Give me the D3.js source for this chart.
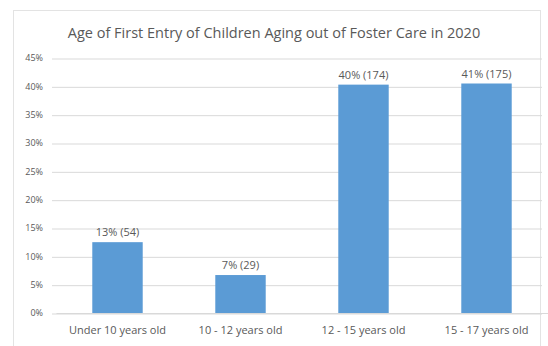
<!DOCTYPE html>
<html lang="en">
<head>
<meta charset="utf-8">
<title>Age of First Entry</title>
<script src="https://d3js.org/d3.v7.min.js"></script>
<style>
  body { margin: 0; background: #fff; }
  text { font-family: "Open Sans", "Liberation Sans", sans-serif; fill: #595959; }
</style>
</head>
<body>
<div id="canvas"></div>
<script>
const categories = ["Under 10 years old", "10 - 12 years old", "12 - 15 years old", "15 - 17 years old"]
const counts = [54, 29, 174, 175]
const shares = [12.5, 6.7, 40.3, 40.5]
const pctLabels = ["13%", "7%", "40%", "41%"]
const yTicks = [0, 5, 10, 15, 20, 25, 30, 35, 40, 45]
const title = "Age of First Entry of Children Aging out of Foster Care in 2020"

const width = 548, height = 346
const margin = {top: 58, right: 0, bottom: 33, left: 56}

const svg = d3.select("#canvas").append("svg")
  .attr("width", width)
  .attr("height", height)

// chart frame
svg.append("rect")
  .attr("x", 13.5).attr("y", 10.5)
  .attr("width", 527).attr("height", 345)
  .attr("fill", "none").attr("stroke", "#e3e3e3")

const x = d3.scaleBand()
  .domain(categories)
  .range([margin.left, width - margin.right])
  .paddingInner(0.59).paddingOuter(0.295)

const y = d3.scaleLinear()
  .domain([0, 45])
  .range([height - margin.bottom, margin.top])

const yAxis = svg.append("g")
  .attr("transform", `translate(${margin.left - 4},0)`)
  .call(d3.axisLeft(y).tickValues(yTicks).tickFormat(d => d + "%").tickSize(-(width - margin.left - 2)).tickPadding(9))
yAxis.select(".domain").remove()
yAxis.selectAll(".tick line").attr("stroke", "#d9d9d9").attr("transform", "translate(0,0.5)")
yAxis.selectAll(".tick text").attr("font-size", 9).attr("fill", "#7f7f7f")

const data = categories.map((c, i) => ({cat: c, share: shares[i], n: counts[i], pct: pctLabels[i]}))

svg.append("g").selectAll("rect")
  .data(data)
  .join("rect")
    .attr("x", d => x(d.cat))
    .attr("width", x.bandwidth())
    .attr("y", d => y(d.share))
    .attr("height", d => y(0) - y(d.share))
    .attr("fill", "#5b9bd5")

svg.append("g").selectAll("text")
  .data(data)
  .join("text")
    .attr("x", d => x(d.cat) + x.bandwidth() / 2)
    .attr("y", d => y(d.share) - 6)
    .attr("text-anchor", "middle")
    .attr("font-size", 11)
    .attr("fill", "#404040")
    .text(d => `${d.pct} (${d.n})`)

const xAxis = svg.append("g")
  .attr("transform", `translate(0,${height - margin.bottom})`)
  .call(d3.axisBottom(x).tickSize(0).tickPadding(13))
xAxis.select(".domain").attr("stroke", "#d9d9d9")
xAxis.selectAll(".tick text").attr("font-size", 11).attr("fill", "#595959")

svg.append("text")
  .attr("x", 274).attr("y", 38)
  .attr("text-anchor", "middle")
  .attr("font-size", 14.5)
  .attr("fill", "#595959")
  .text(title)
</script>
</body>
</html>
